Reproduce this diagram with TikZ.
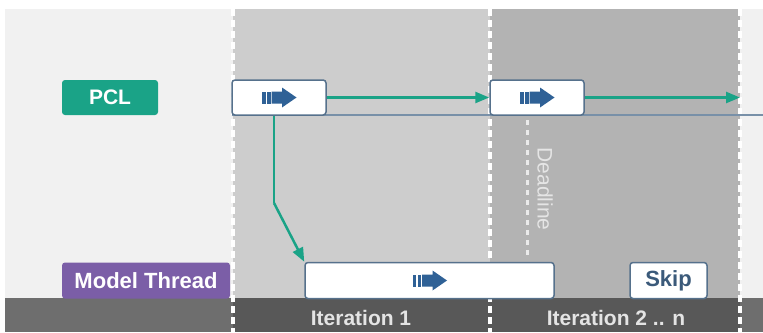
\documentclass[tikz,border=0pt]{standalone}
\usepackage{fontspec}
\setmainfont{Liberation Sans}
\usetikzlibrary{arrows.meta}
\definecolor{bglight}{HTML}{F1F1F1}
\definecolor{iterA}{HTML}{CDCDCD}
\definecolor{iterB}{HTML}{B3B3B3}
\definecolor{bandL}{HTML}{6E6E6E}
\definecolor{bandD}{HTML}{585858}
\definecolor{pclgreen}{HTML}{1AA387}
\definecolor{modelpurple}{HTML}{7B5EA7}
\definecolor{boxborder}{HTML}{56718C}
\definecolor{timeline}{HTML}{7890A8}
\definecolor{iconblue}{HTML}{2F6196}
\definecolor{skipblue}{HTML}{3B5A7A}
\definecolor{bandtext}{HTML}{E4E4E4}
\tikzset{
  sep/.style={white, line width=4, dash pattern=on 7 off 4},
  deadlinedash/.style={white!92!black, line width=3, dash pattern=on 5 off 5},
  tag/.style={rounded corners=3, inner sep=0, text=white, font=\bfseries\fontsize{21}{21}\selectfont},
  taskbox/.style={draw=boxborder, line width=1.5, fill=white, rounded corners=3, inner sep=0},
  flow/.style={pclgreen, line width=2.5, -{Triangle[length=14,width=11]}},
  bandlabel/.style={text=bandtext, font=\bfseries\fontsize{21}{21}\selectfont},
  icon/.pic={
    \fill[iconblue] (-17,-6) rectangle (-13.5,6);
    \fill[iconblue] (-12,-6) rectangle (-8.5,6);
    \fill[iconblue] (-7.5,-6) -- (3,-6) -- (3,-10) -- (17.5,0) -- (3,10) -- (3,6) -- (-7.5,6) -- cycle;
  }
}
\begin{document}
\begin{tikzpicture}[x=1pt,y=-1pt]
\useasboundingbox (0,0) rectangle (763,332);
\fill[white] (0,0) rectangle (763,332);
% background columns
\fill[bglight] (5,9) rectangle (763,298);
\fill[iterA] (233,9) rectangle (490,298);
\fill[iterB] (490,9) rectangle (740,298);
\fill[bandL] (5,298) rectangle (763,332);
\fill[bandD] (233,298) rectangle (740,332);
% separators
\draw[sep] (233,9) -- (233,332);
\draw[sep] (490,9) -- (490,332);
\draw[sep] (740,9) -- (740,332);
% band labels
\node[bandlabel] (it1) at (361,318) {Iteration 1};
\node[bandlabel] (it2) at (616,318) {Iteration 2 .. n};
% lane labels
\node[tag, fill=pclgreen, minimum width=96, minimum height=35] (pcl) at (110,97.5) {PCL};
\node[tag, fill=modelpurple, minimum width=168, minimum height=36, font=\bfseries\fontsize{22}{22}\selectfont] (mt) at (146,280.5) {Model Thread};
% PCL timeline
\coordinate (tlend) at (763,115);
\draw[timeline, line width=2] (232,115) -- (tlend);
% deadline
\draw[deadlinedash] (527,120) -- (527,258);
\node[rotate=-90, text=white!90!black, font=\fontsize{21}{21}\selectfont] (dl) at (545,189) {Deadline};
% PCL tasks
\node[taskbox, minimum width=94, minimum height=35] (p1) at (279,97.5) {};
\node[taskbox, minimum width=94, minimum height=35] (p2) at (537,97.5) {};
\pic at (p1.center) {icon};
\pic at (p2.center) {icon};
% model tasks
\node[taskbox, minimum width=249, minimum height=36] (m1) at (429.5,280.5) {};
\pic at (m1.center) {icon};
\node[taskbox, minimum width=77, minimum height=36, text=skipblue, font=\bfseries\fontsize{22}{22}\selectfont] (skip) at (668.5,280.5) {Skip};
% flows
\coordinate (end2) at (740,97.5);
\coordinate (bend) at (274,203);
\draw[flow] (p1.east) -- (p2.west);
\draw[flow] (p2.east) -- (end2);
\draw[flow, -] ([xshift=-5]p1.south) -- (bend);
\draw[flow] (bend) -- (m1.north west);
\end{tikzpicture}
\end{document}
